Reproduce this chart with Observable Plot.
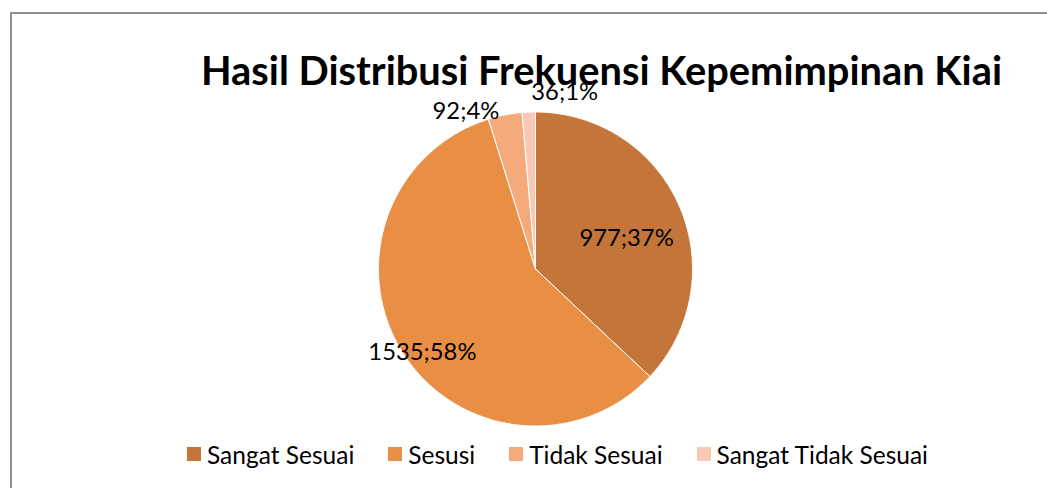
<!DOCTYPE html>
<html><head><meta charset="utf-8">
<script src="https://cdn.jsdelivr.net/npm/d3@7"></script>
<script src="https://cdn.jsdelivr.net/npm/@observablehq/plot@0.6"></script>
<style>
html,body{margin:0;padding:0;background:#fff}
body{width:1047px;height:488px;overflow:hidden;position:relative;font-family:Lato,"Open Sans",sans-serif}
#frame{position:absolute;left:10px;top:12px;width:1100px;height:600px;border:2px solid #8f8f8f;box-sizing:border-box}
#chart{position:absolute;left:0;top:0}
#title{position:absolute;left:0;width:1203px;text-align:center;top:46px;font-size:39.8px;font-weight:700;color:#000;line-height:48px;white-space:nowrap}
#legend{position:absolute;left:187px;top:439px}
#legend .lg-swatches{display:flex;align-items:center;font-family:Lato,"Open Sans",sans-serif;font-size:24.5px;color:#000;margin:0;min-height:30px}
#legend .lg-swatch{margin-right:34px !important;display:inline-flex;align-items:center}
#legend .lg-swatch svg{margin-right:6px !important}
</style>
</head><body>
<div id="frame"></div>
<div id="chart"></div>
<div id="title">Hasil Distribusi Frekuensi Kepemimpinan Kiai</div>
<div id="legend"></div>
<script>
const categories = ["Sangat Sesuai", "Sesusi", "Tidak Sesuai", "Sangat Tidak Sesuai"];
const counts = [977, 1535, 92, 36];
const percents = [37, 58, 4, 1];
const colors = ["#C4763A", "#E98F45", "#F5AA7C", "#F8CAB6"];

const W = 1047, H = 488, cx = 535, cy = 268.5, R = 157;

const arcs = d3.pie().sort(null).value(d => d)(counts);
const pts = [];
arcs.forEach((a, i) => {
  const cat = categories[i];
  pts.push({cat, x: 0, y: 0});
  const n = Math.max(2, Math.ceil((a.endAngle - a.startAngle) / (Math.PI / 360)));
  for (let k = 0; k <= n; k++) {
    const t = a.startAngle + (a.endAngle - a.startAngle) * k / n;
    pts.push({cat, x: Math.sin(t), y: Math.cos(t)});
  }
  pts.push({cat, x: 0, y: 0});
});

// label placement: radius factor along mid-angle plus small nudges
const labelR = [0.62, 0.90, 1.10, 1.15];
const labelShift = [[0.011, -0.052], [0.042, -0.052], [-0.23, -0.076], [0.235, -0.025]];
const labels = arcs.map((a, i) => {
  const m = (a.startAngle + a.endAngle) / 2;
  return {
    x: labelR[i] * Math.sin(m) + labelShift[i][0],
    y: labelR[i] * Math.cos(m) + labelShift[i][1],
    text: `${counts[i]};${percents[i]}%`
  };
});

const plot = Plot.plot({
  width: W, height: H, margin: 0,
  x: {domain: [-cx / R, (W - cx) / R], axis: null},
  y: {domain: [(cy - H) / R, cy / R], axis: null},
  color: {domain: categories, range: colors},
  style: {background: "transparent", fontFamily: "Lato, 'Open Sans', sans-serif"},
  marks: [
    Plot.line(pts, {x: "x", y: "y", z: "cat", fill: "cat", stroke: "white", strokeWidth: 1, curve: "linear"}),
    Plot.text(labels, {x: "x", y: "y", text: "text", fontSize: 23.8, fill: "#000"})
  ]
});
document.getElementById("chart").appendChild(plot);

const leg = Plot.legend({
  color: {domain: categories, range: colors},
  legend: "swatches", swatchSize: 14, className: "lg"
});
document.getElementById("legend").appendChild(leg);
</script>
</body></html>
